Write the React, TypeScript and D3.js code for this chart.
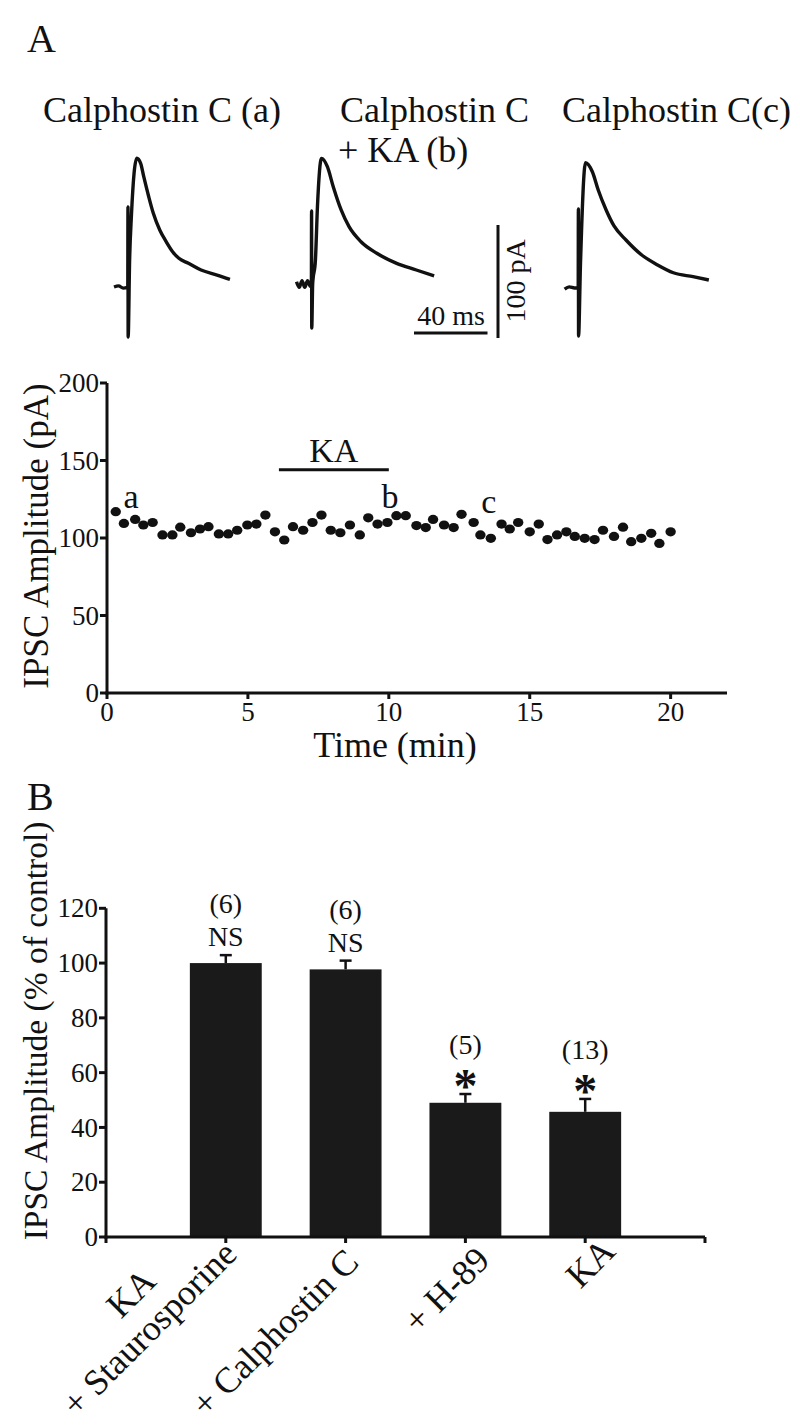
import React from 'react';
import * as d3 from 'd3';

const SERIF = '"Liberation Serif", "Times New Roman", Times, serif';
const INK = '#111111';

// ---------- Panel A: example IPSC traces, [ms, pA above baseline] ----------
const TRACE_A: [number, number][] = [
  [0, 0], [2.5, 1], [5, -1], [7.5, 0], [7.6, 70.8], [7.7, -44.2], [8.5, 23.9], [9.5, 63.7],
  [12.4, 113.9], [14.5, 109.5], [16.2, 97.6], [18.9, 79.9], [21.4, 65.2], [24.9, 50.4],
  [28.4, 40.1], [31.9, 31.2], [35.3, 25.4], [40.5, 21], [47.4, 15], [56.1, 10.6], [63.1, 6.8],
];
const TRACE_B: [number, number][] = [
  [0, 2], [1.5, -3], [3, 3], [4.5, -3], [6, 3], [7.5, -2], [8.1, 0], [8.2, 64.6], [8.3, -39],
  [8.8, 0], [10.3, 21.2], [11.4, 68.4], [13.6, 111.2], [16.8, 103.8], [20.0, 86.1], [24.3, 65.5],
  [28.6, 50.7], [35.1, 37.4], [43.7, 27.2], [54.5, 18.3], [65.2, 12.4], [74.9, 7.1],
];
const TRACE_C: [number, number][] = [
  [0, -1], [2.5, 1], [5.4, 0], [7.4, 0], [7.5, 70], [7.6, -42.5], [8.6, 18.9], [11.4, 110.9],
  [15.1, 102.9], [18.3, 86.7], [22.6, 69], [26.9, 54.9], [33.4, 42.5], [42.0, 29.2], [50.6, 20.4],
  [59.2, 13.5], [69.9, 10], [78.5, 7.1],
];
const SCALE_BAR_MS = 40;
const SCALE_BAR_PA = 100;

// ---------- Panel A: time course ----------
const TIME_MIN = [
  0.31, 0.6, 1.0, 1.29, 1.62, 1.97, 2.32, 2.6, 2.98, 3.3, 3.6, 3.97, 4.3, 4.62, 4.98,
  5.3, 5.62, 5.96, 6.29, 6.6, 6.96, 7.29, 7.61, 7.94, 8.28, 8.62, 8.97, 9.27, 9.6, 9.95,
  10.27, 10.6, 10.98, 11.31, 11.57, 11.96, 12.3, 12.58, 13.01, 13.25, 13.62, 14.0, 14.29, 14.59, 15.0,
  15.32, 15.63, 15.97, 16.3, 16.6, 16.95, 17.3, 17.6, 17.99, 18.31, 18.6, 18.96, 19.31, 19.6, 20.0,
];
const IPSC_PA = [
  117, 109.4, 112, 108.4, 110, 102, 102, 107, 103.4, 105.8, 107.3, 102.6, 102.6, 105, 108.4,
  109, 114.8, 104, 98.7, 107.3, 105, 110, 114.8, 105, 103.4, 108.4, 102, 113, 109, 110,
  114.4, 114.4, 108, 106.7, 112, 108.4, 106.7, 115.3, 110, 102, 99.8, 109, 105.8, 110, 104,
  109, 99, 102, 104, 101, 99.8, 99, 105, 101, 107, 97.6, 99.8, 103, 96.5, 104,
];
const TIME_TICKS = [0, 5, 10, 15, 20];
const AMP_TICKS = [0, 50, 100, 150, 200];
const KA_PERIOD = [6.1, 10.0];
const KA_BAR_LEVEL = 144;
const POINT_LABELS = ['a', 'b', 'c'];
const POINT_LABEL_T = [0.85, 10.04, 13.55];
const POINT_LABEL_V = [119.4, 119.4, 116];

// ---------- Panel B: bar chart ----------
const GROUPS = ['+ Staurosporine', '+ Calphostin C', '+ H-89', 'KA'];
const MEANS = [100.0, 97.7, 49.0, 45.7];
const SEMS = [2.9, 3.2, 3.2, 4.7];
const N_LABELS = ['(6)', '(6)', '(5)', '(13)'];
const SIG_LABELS = ['NS', 'NS', '*', '*'];
const PCT_TICKS = [0, 20, 40, 60, 80, 100, 120];

// layout for rotated category labels (offset of text end from its tick)
const LABEL_OFFSETS: [number, number][] = [[13, 19], [15, 27], [26, 25], [32, 16]];

function Trace({ data, x0, y0 }: { data: [number, number][]; x0: number; y0: number }) {
  const xs = d3.scaleLinear().domain([0, SCALE_BAR_MS]).range([x0, x0 + 73.5]);
  const ys = d3.scaleLinear().domain([0, SCALE_BAR_PA]).range([y0, y0 - 113]);
  const line = d3
    .line<[number, number]>()
    .x((d) => xs(d[0]))
    .y((d) => ys(d[1]))
    .curve(d3.curveMonotoneX);
  return <path d={line(data) || ''} fill="none" stroke={INK} strokeWidth={3.4} strokeLinejoin="round" />;
}

export default function App() {
  // time course scales
  const xT = d3.scaleLinear().domain([0, 22]).range([107, 727]);
  const yA = d3.scaleLinear().domain([0, 200]).range([693, 383]);
  // bar chart scales
  const xB = d3.scaleLinear().domain([0, 5]).range([106, 705]);
  const yB = d3.scaleLinear().domain([0, 120]).range([1237, 908.3]);
  const barHalf = 0.3;

  // scale bar geometry (same scales as the traces)
  const sbX = d3.scaleLinear().domain([0, SCALE_BAR_MS]).range([414, 487.5]);
  const sbY = d3.scaleLinear().domain([0, SCALE_BAR_PA]).range([338, 225]);

  return (
    <svg
      width={800}
      height={1426}
      viewBox="0 0 800 1426"
      style={{ position: 'absolute', left: 0, top: 0, display: 'block' }}
      fontFamily={SERIF}
      fill={INK}
    >
      <rect x={0} y={0} width={800} height={1426} fill="#ffffff" />

      {/* ---------- Panel A ---------- */}
      <text x={27} y={52} fontSize={40}>A</text>
      <text x={43} y={122} fontSize={36}>Calphostin C (a)</text>
      <text x={340} y={122} fontSize={36}>Calphostin C</text>
      <text x={338} y={162} fontSize={36}>+ KA (b)</text>
      <text x={562} y={122} fontSize={36}>Calphostin C(c)</text>

      <Trace data={TRACE_A} x0={114} y0={287} />
      <Trace data={TRACE_B} x0={296.5} y0={284} />
      <Trace data={TRACE_C} x0={564.6} y0={288} />

      {/* scale bars */}
      <line x1={sbX(0)} x2={sbX(SCALE_BAR_MS)} y1={333} y2={333} stroke={INK} strokeWidth={3} />
      <line x1={498} x2={498} y1={sbY(0)} y2={sbY(SCALE_BAR_PA)} stroke={INK} strokeWidth={3} />
      <text x={451} y={325} fontSize={28} textAnchor="middle">{`${SCALE_BAR_MS} ms`}</text>
      <text transform="translate(525,281) rotate(-90)" fontSize={28} textAnchor="middle">{`${SCALE_BAR_PA} pA`}</text>

      {/* time course axes */}
      <line x1={xT(0)} x2={xT(0)} y1={yA(0) + 1.5} y2={yA(200)} stroke={INK} strokeWidth={3} />
      <line x1={xT(0) - 1.5} x2={xT(22)} y1={yA(0)} y2={yA(0)} stroke={INK} strokeWidth={3} />
      {AMP_TICKS.map((v) => (
        <g key={`ya${v}`}>
          <line x1={xT(0) - 7} x2={xT(0)} y1={yA(v)} y2={yA(v)} stroke={INK} strokeWidth={3} />
          <text x={xT(0) - 8} y={yA(v)} dy="0.34em" fontSize={27} textAnchor="end">{v}</text>
        </g>
      ))}
      {TIME_TICKS.map((t) => (
        <g key={`xt${t}`}>
          <line x1={xT(t)} x2={xT(t)} y1={yA(0)} y2={yA(0) + 6} stroke={INK} strokeWidth={3} />
          <text x={xT(t)} y={721} fontSize={27} textAnchor="middle">{t}</text>
        </g>
      ))}
      <text x={395} y={757} fontSize={36} textAnchor="middle">Time (min)</text>
      <text transform="translate(48,536) rotate(-90)" fontSize={35} textAnchor="middle">IPSC Amplitude (pA)</text>

      {/* KA application bar */}
      <line x1={xT(KA_PERIOD[0])} x2={xT(KA_PERIOD[1])} y1={yA(KA_BAR_LEVEL)} y2={yA(KA_BAR_LEVEL)} stroke={INK} strokeWidth={3} />
      <text x={xT((KA_PERIOD[0] + KA_PERIOD[1]) / 2)} y={462} fontSize={34} textAnchor="middle">KA</text>

      {TIME_MIN.map((t, i) => (
        <ellipse key={`p${i}`} cx={xT(t)} cy={yA(IPSC_PA[i])} rx={5.2} ry={4.6} fill={INK} />
      ))}
      {POINT_LABELS.map((l, i) => (
        <text key={`pl${l}`} x={xT(POINT_LABEL_T[i])} y={yA(POINT_LABEL_V[i])} fontSize={34} textAnchor="middle">{l}</text>
      ))}

      {/* ---------- Panel B ---------- */}
      <text x={27} y={810} fontSize={40}>B</text>
      <text transform="translate(47,1031) rotate(-90)" fontSize={33.5} textAnchor="middle">IPSC Amplitude (% of control)</text>

      {MEANS.map((m, i) => {
        const cx = xB(i + 1);
        const errTop = yB(m + SEMS[i]);
        return (
          <g key={`bar${i}`}>
            <rect x={xB(i + 1 - barHalf)} y={yB(m)} width={xB(i + 1 + barHalf) - xB(i + 1 - barHalf)} height={yB(0) - yB(m)} fill="#1a1a1a" />
            <line x1={cx} x2={cx} y1={yB(m)} y2={errTop} stroke={INK} strokeWidth={2.5} />
            <line x1={cx - 6} x2={cx + 6} y1={errTop} y2={errTop} stroke={INK} strokeWidth={2.5} />
            {SIG_LABELS[i] === 'NS' ? (
              <>
                <text x={cx} y={errTop - 9} fontSize={28} textAnchor="middle">NS</text>
                <text x={cx} y={errTop - 42} fontSize={28} textAnchor="middle">{N_LABELS[i]}</text>
              </>
            ) : (
              <>
                <text x={cx} y={errTop + 8} fontSize={48} fontWeight="bold" textAnchor="middle">*</text>
                <text x={cx} y={errTop - 40} fontSize={28} textAnchor="middle">{N_LABELS[i]}</text>
              </>
            )}
          </g>
        );
      })}

      {/* bar chart axes */}
      <line x1={xB(0)} x2={xB(0)} y1={yB(0) + 1.5} y2={yB(120)} stroke={INK} strokeWidth={3} />
      <line x1={xB(0) - 1.5} x2={xB(5)} y1={yB(0)} y2={yB(0)} stroke={INK} strokeWidth={3} />
      {PCT_TICKS.map((v) => (
        <g key={`yb${v}`}>
          <line x1={xB(0) - 7} x2={xB(0)} y1={yB(v)} y2={yB(v)} stroke={INK} strokeWidth={3} />
          <text x={xB(0) - 8} y={yB(v)} dy="0.34em" fontSize={27} textAnchor="end">{v}</text>
        </g>
      ))}
      {[0, 1, 2, 3, 4, 5].map((k) => (
        <line key={`xb${k}`} x1={xB(k)} x2={xB(k)} y1={yB(0)} y2={yB(0) + 6} stroke={INK} strokeWidth={3} />
      ))}
      {GROUPS.map((g, i) => {
        const [dx, dy] = LABEL_OFFSETS[i];
        return (
          <text key={`gl${i}`} transform={`translate(${xB(i + 1) + dx},${yB(0) + dy}) rotate(-45)`} fontSize={36} textAnchor="end">
            {g}
          </text>
        );
      })}
      <text transform={`translate(${xB(1) - 68},${yB(0) + 46}) rotate(-45)`} fontSize={36} textAnchor="end">KA</text>
    </svg>
  );
}
